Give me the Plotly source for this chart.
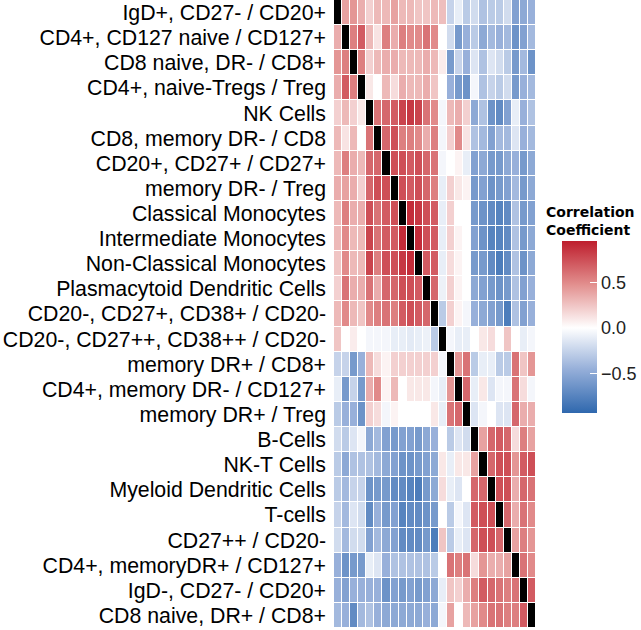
import plotly.graph_objects as go

labels = [
    "IgD+, CD27- / CD20+",
    "CD4+, CD127 naive / CD127+",
    "CD8 naive, DR- / CD8+",
    "CD4+, naive-Tregs / Treg",
    "NK Cells",
    "CD8, memory DR- / CD8",
    "CD20+, CD27+ / CD27+",
    "memory DR- / Treg",
    "Classical Monocytes",
    "Intermediate Monocytes",
    "Non-Classical Monocytes",
    "Plasmacytoid Dendritic Cells",
    "CD20-, CD27+, CD38+ / CD20-",
    "CD20-, CD27++, CD38++ / CD20-",
    "memory DR+ / CD8+",
    "CD4+, memory DR- / CD127+",
    "memory DR+ / Treg",
    "B-Cells",
    "NK-T Cells",
    "Myeloid Dendritic Cells",
    "T-cells",
    "CD27++ / CD20-",
    "CD4+, memoryDR+ / CD127+",
    "IgD-, CD27- / CD20+",
    "CD8 naive, DR+ / CD8+",
]

N = None  # diagonal (drawn black)
r01 = [N, 0.40, 0.45, 0.35, 0.20, 0.30, 0.30, 0.40, 0.30, 0.30, 0.25, 0.25, 0.30, 0.28, -0.25, -0.10, -0.30, -0.20, -0.35, -0.30, -0.30, -0.20, -0.55, -0.50, -0.45]
r02 = [0.35, N, 0.55, 0.70, 0.30, 0.12, 0.55, 0.35, 0.55, 0.50, 0.50, 0.60, 0.50, 0.00, -0.20, -0.60, -0.45, -0.30, -0.50, -0.40, -0.45, -0.40, -0.65, -0.55, -0.40]
r03 = [0.45, 0.55, N, 0.55, 0.20, 0.30, 0.35, 0.35, 0.30, 0.30, 0.30, 0.35, 0.30, 0.08, -0.60, -0.25, -0.45, -0.15, -0.35, -0.15, -0.20, -0.30, -0.60, -0.40, -0.65]
r04 = [0.35, 0.70, 0.55, N, 0.10, 0.00, 0.30, 0.15, 0.35, 0.30, 0.30, 0.35, 0.25, 0.00, -0.45, -0.60, -0.65, -0.05, -0.35, -0.25, -0.30, -0.20, -0.60, -0.45, -0.40]
r05 = [0.20, 0.30, 0.20, 0.10, N, 0.60, 0.65, 0.70, 0.80, 0.85, 0.80, 0.60, 0.50, -0.05, 0.30, 0.35, 0.20, -0.50, -0.35, -0.65, -0.70, -0.55, -0.10, -0.45, -0.35]
r06 = [0.30, 0.12, 0.30, 0.00, 0.60, N, 0.65, 0.75, 0.55, 0.55, 0.50, 0.35, 0.55, -0.05, 0.20, 0.50, 0.12, -0.35, -0.40, -0.55, -0.40, -0.40, -0.15, -0.45, -0.40]
r07 = [0.30, 0.55, 0.35, 0.30, 0.65, 0.65, N, 0.75, 0.75, 0.70, 0.75, 0.65, 0.60, -0.05, 0.00, 0.05, -0.10, -0.55, -0.50, -0.60, -0.60, -0.50, -0.45, -0.60, -0.50]
r08 = [0.35, 0.40, 0.35, 0.20, 0.65, 0.75, 0.75, N, 0.75, 0.70, 0.75, 0.65, 0.55, -0.10, 0.20, 0.10, 0.05, -0.60, -0.55, -0.65, -0.60, -0.55, -0.40, -0.60, -0.50]
r09 = [0.30, 0.55, 0.35, 0.35, 0.75, 0.60, 0.70, 0.75, N, 0.90, 0.85, 0.75, 0.70, -0.10, 0.20, 0.00, 0.00, -0.60, -0.65, -0.70, -0.75, -0.70, -0.35, -0.60, -0.55]
r10 = [0.30, 0.50, 0.30, 0.30, 0.80, 0.60, 0.70, 0.70, 0.90, N, 0.90, 0.75, 0.70, -0.10, 0.20, 0.05, 0.00, -0.55, -0.65, -0.75, -0.75, -0.70, -0.35, -0.60, -0.50]
r11 = [0.25, 0.50, 0.30, 0.30, 0.80, 0.55, 0.75, 0.75, 0.85, 0.90, N, 0.70, 0.70, -0.10, 0.15, 0.05, 0.00, -0.60, -0.60, -0.70, -0.80, -0.70, -0.35, -0.65, -0.50]
r12 = [0.20, 0.60, 0.35, 0.35, 0.60, 0.35, 0.65, 0.65, 0.75, 0.75, 0.70, N, 0.65, -0.08, 0.20, 0.05, 0.00, -0.50, -0.55, -0.60, -0.65, -0.60, -0.35, -0.55, -0.45]
r13 = [0.30, 0.50, 0.30, 0.25, 0.50, 0.55, 0.60, 0.55, 0.70, 0.75, 0.70, 0.65, N, -0.30, 0.20, 0.05, -0.05, -0.45, -0.50, -0.55, -0.60, -0.80, -0.35, -0.55, -0.45]
r14 = [0.25, 0.00, 0.08, 0.00, -0.05, -0.05, -0.05, -0.10, -0.10, -0.12, -0.10, -0.08, -0.30, N, -0.05, -0.10, -0.10, 0.00, 0.10, 0.15, 0.00, 0.25, 0.00, -0.10, -0.05]
r15 = [-0.25, -0.25, -0.60, -0.45, 0.30, 0.15, 0.05, 0.20, 0.20, 0.20, 0.20, 0.20, 0.20, -0.05, N, 0.45, 0.60, -0.30, -0.10, -0.10, -0.30, -0.30, 0.60, 0.25, 0.45]
r16 = [-0.10, -0.60, -0.25, -0.60, 0.35, 0.50, 0.05, 0.30, 0.00, 0.10, 0.10, 0.10, -0.05, -0.10, 0.45, N, 0.65, -0.10, 0.10, -0.15, -0.05, -0.05, 0.60, 0.15, -0.05]
r17 = [-0.30, -0.45, -0.45, -0.65, 0.20, 0.15, -0.05, 0.05, 0.00, 0.00, 0.00, 0.00, 0.10, -0.10, 0.60, 0.65, N, -0.15, -0.05, 0.00, -0.15, -0.15, 0.65, 0.35, 0.35]
r18 = [-0.20, -0.30, -0.15, -0.05, -0.50, -0.40, -0.55, -0.60, -0.55, -0.55, -0.60, -0.50, -0.45, 0.00, -0.30, -0.15, -0.20, N, 0.40, 0.65, 0.70, 0.65, 0.15, 0.55, 0.40]
r19 = [-0.30, -0.50, -0.35, -0.35, -0.35, -0.40, -0.50, -0.55, -0.65, -0.65, -0.60, -0.55, -0.50, 0.10, -0.10, 0.10, 0.10, 0.40, N, 0.65, 0.75, 0.75, 0.45, 0.70, 0.75]
r20 = [-0.30, -0.40, -0.25, -0.25, -0.65, -0.60, -0.60, -0.70, -0.70, -0.75, -0.80, -0.60, -0.50, 0.15, -0.10, -0.15, 0.00, 0.65, 0.65, N, 0.75, 0.75, 0.35, 0.65, 0.60]
r21 = [-0.25, -0.40, -0.15, -0.20, -0.70, -0.45, -0.60, -0.55, -0.75, -0.70, -0.70, -0.65, -0.60, 0.00, -0.30, -0.05, -0.15, 0.70, 0.75, 0.75, N, 0.65, 0.35, 0.60, 0.50]
r22 = [-0.20, -0.40, -0.20, -0.20, -0.55, -0.40, -0.50, -0.55, -0.70, -0.70, -0.70, -0.60, -0.80, 0.25, -0.30, -0.10, -0.15, 0.65, 0.75, 0.75, 0.65, N, 0.40, 0.55, 0.45]
r23 = [-0.45, -0.65, -0.60, -0.60, -0.10, -0.15, -0.45, -0.35, -0.35, -0.35, -0.35, -0.35, -0.30, 0.00, 0.60, 0.55, 0.60, 0.15, 0.45, 0.35, 0.35, 0.40, N, 0.60, 0.50]
r24 = [-0.45, -0.55, -0.45, -0.45, -0.45, -0.45, -0.65, -0.55, -0.60, -0.55, -0.60, -0.55, -0.50, -0.10, 0.25, 0.20, 0.35, 0.55, 0.70, 0.65, 0.60, 0.55, 0.60, N, 0.70]
r25 = [-0.40, -0.45, -0.70, -0.40, -0.35, -0.45, -0.50, -0.50, -0.50, -0.50, -0.50, -0.45, -0.50, -0.05, 0.40, 0.00, 0.30, 0.40, 0.50, 0.60, 0.60, 0.55, 0.55, 0.70, N]

matrix = [r01, r02, r03, r04, r05, r06, r07, r08, r09, r10, r11, r12, r13,
          r14, r15, r16, r17, r18, r19, r20, r21, r22, r23, r24, r25]

colorbar_ticks = [0.5, 0.0, -0.5]
colorbar_ticktext = ["0.5", "0.0", "\u22120.5"]
legend_title = "<b>Correlation<br>Coefficient</b>"
zmin, zmax = -0.94, 0.96

# diagonal marker layer (self-correlation drawn in black)
diag = [[1 if v is None else None for v in row] for row in matrix]

mid = (0 - zmin) / (zmax - zmin)
colorscale = [
    [0.0, "#2F68AE"],
    [mid * 0.5, "#93ADD8"],
    [mid, "#FFFFFF"],
    [mid + (1 - mid) * 0.5, "#E28F8E"],
    [1.0, "#BE1E2D"],
]

fig = go.Figure()
fig.add_trace(go.Heatmap(
    z=matrix, x=labels, y=labels,
    zmin=zmin, zmax=zmax, colorscale=colorscale,
    xgap=1, ygap=1, hoverongaps=False,
    colorbar=dict(
        tickvals=colorbar_ticks, ticktext=colorbar_ticktext,
        tickfont=dict(family="Liberation Sans, Arial", size=18, color="#222222"),
        ticks="inside", tickcolor="white", ticklen=7,
        outlinewidth=0, thickness=35,
        lenmode="pixels", len=172,
        x=1.129, xanchor="left", y=0.479, yanchor="middle",
        xpad=0, ypad=0,
    ),
))
fig.add_trace(go.Heatmap(
    z=diag, x=labels, y=labels,
    colorscale=[[0, "black"], [1, "black"]],
    showscale=False, xgap=1, ygap=1, hoverongaps=False,
))

fig.add_annotation(
    text=legend_title, xref="paper", yref="paper",
    x=1.04, y=0.618, xanchor="left", yanchor="bottom",
    align="left", showarrow=False,
    font=dict(family="DejaVu Sans", size=14, color="black"),
)

fig.update_layout(
    width=641, height=630,
    margin=dict(l=334, r=105, t=0, b=2, autoexpand=False),
    paper_bgcolor="white", plot_bgcolor="white",
    font=dict(family="Liberation Sans, Arial", color="black"),
)
fig.update_xaxes(showticklabels=False, showgrid=False, zeroline=False, ticks="")
fig.update_yaxes(autorange="reversed", showgrid=False, zeroline=False,
                 tickmode="array", tickvals=labels, ticktext=labels,
                 ticks="", ticklabelstandoff=7,
                 tickfont=dict(family="Liberation Sans, Arial", size=21.3, color="black"))

fig.write_html("out.html", config={"displayModeBar": False},
               post_script="document.body.style.margin='0';")
